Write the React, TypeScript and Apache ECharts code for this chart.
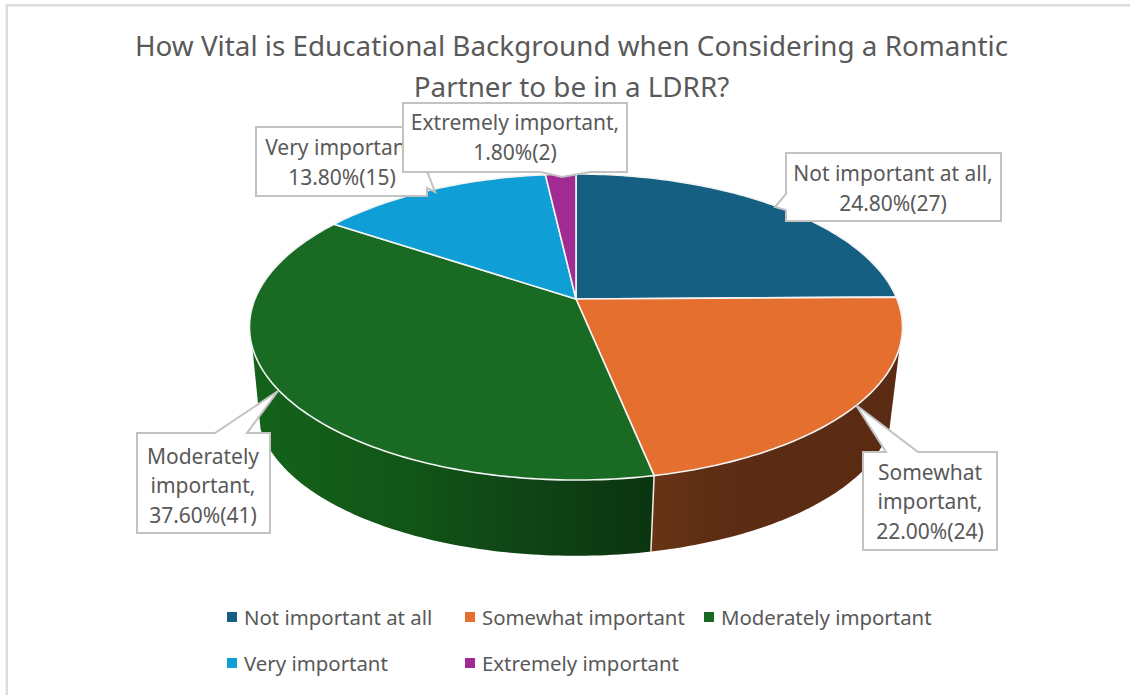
import { useEffect, useRef } from "react";
import * as echarts from "echarts";

const titleLines = [
  "How Vital is Educational Background when Considering a Romantic",
  "Partner to be in a LDRR?",
];
const categories = [
  "Not important at all",
  "Somewhat important",
  "Moderately important",
  "Very important",
  "Extremely important",
];
const shares = [24.8, 22.0, 37.6, 13.8, 1.8];
const counts = [27, 24, 41, 15, 2];
const topColors = ["#156082", "#E46F2E", "#196B24", "#0F9ED5", "#A02B93"];

const FONT = "Noto Sans";
const TEXT = "#595959";

// Perspective disc: rims are projected circles, the far side is foreshortened.
const PERSPECTIVE = 0.183;
const topRim = { cx: 576, cy: 299, rx: 321, ry: 147.9 };
const bottomRim = { cx: 575, cy: 382, rx: 312, ry: 142 };
const SIDE_FROM = 108;
const SIDE_TO = 252;

const rimPoint = (rim: typeof topRim, deg: number) => {
  const t = (deg * Math.PI) / 180;
  const w = 1 + PERSPECTIVE * Math.cos(t);
  return [rim.cx + (rim.rx * Math.sin(t)) / w, rim.cy - (rim.ry * Math.cos(t)) / w];
};

const arcPoints = (rim: typeof topRim, from: number, to: number) => {
  const n = Math.max(2, Math.ceil(Math.abs(to - from)));
  const pts: number[][] = [];
  for (let i = 0; i <= n; i++) pts.push(rimPoint(rim, from + ((to - from) * i) / n));
  return pts;
};

const sideFill = (index: number) => {
  if (index === 1) {
    return new echarts.graphic.LinearGradient(
      653, 0, 900, 0,
      [
        { offset: 0, color: "#693415" },
        { offset: 0.25, color: "#5C2D13" },
        { offset: 1, color: "#5A2B12" },
      ],
      true
    );
  }
  return new echarts.graphic.LinearGradient(
    250, 0, 652, 0,
    [
      { offset: 0, color: "#15631B" },
      { offset: 0.4, color: "#115517" },
      { offset: 0.7, color: "#104316" },
      { offset: 1, color: "#0A3510" },
    ],
    true
  );
};

const sliceRenderer = (index: number) => (_params: unknown, api: any) => {
  const before = shares.slice(0, index).reduce((a, b) => a + b, 0);
  const start = (before / 100) * 360;
  const end = start + (api.value(0) / 100) * 360;
  const children: any[] = [];

  const sideStart = Math.max(start, SIDE_FROM);
  const sideEnd = Math.min(end, SIDE_TO);
  if (sideEnd > sideStart) {
    children.push({
      type: "polygon",
      shape: {
        points: [
          ...arcPoints(topRim, sideStart, sideEnd),
          ...arcPoints(bottomRim, sideEnd, sideStart),
        ],
      },
      style: { fill: sideFill(index) },
    });
    if (start >= SIDE_FROM) {
      children.push({
        type: "line",
        shape: {
          x1: rimPoint(topRim, start)[0],
          y1: rimPoint(topRim, start)[1],
          x2: rimPoint(bottomRim, start)[0],
          y2: rimPoint(bottomRim, start)[1],
        },
        style: { stroke: "#F2EEEA", lineWidth: 1.5 },
      });
    }
  }
  children.push({
    type: "polygon",
    shape: { points: [[topRim.cx, topRim.cy], ...arcPoints(topRim, start, end)] },
    style: { fill: topColors[index], stroke: "#F4F4F4", lineWidth: 1.6, lineJoin: "round" },
  });
  return { type: "group", children };
};

const valueText = (i: number) => `${shares[i].toFixed(2)}%(${counts[i]})`;

const callouts = [
  {
    head: "Not important at all,",
    index: 0,
    outline: [[786, 153], [1001, 153], [1001, 221], [786, 221], [786, 210], [775, 207], [786, 194]],
    cx: 893, cy: 188,
  },
  {
    head: "Somewhat\nimportant,",
    index: 1,
    outline: [[863, 452], [886, 452], [856, 405], [918, 452], [997, 452], [997, 550], [863, 550]],
    cx: 930, cy: 501,
  },
  {
    head: "Moderately\nimportant,",
    index: 2,
    outline: [[137, 433], [215, 433], [278, 391], [247, 433], [270, 433], [270, 533], [137, 533]],
    cx: 203, cy: 485,
  },
  {
    head: "Very important,",
    index: 3,
    outline: [[256, 127], [427, 127], [427, 171], [435, 192], [427, 188], [427, 196], [256, 196]],
    cx: 342, cy: 162,
  },
  {
    head: "Extremely important,",
    index: 4,
    outline: [[403, 103], [627, 103], [627, 172], [590, 172], [562, 177], [541, 172], [403, 172]],
    cx: 515, cy: 137,
  },
];

const legendSlots = [
  { left: 227, top: 607 },
  { left: 465, top: 607 },
  { left: 704, top: 607 },
  { left: 227, top: 653 },
  { left: 465, top: 653 },
];

export default function App() {
  const ref = useRef<HTMLDivElement>(null);

  useEffect(() => {
    document.body.style.margin = "0";
    const chart = echarts.init(ref.current!, undefined, { renderer: "svg" });
    chart.setOption({
      animation: false,
      backgroundColor: "#FFFFFF",
      title: {
        text: titleLines.join("\n"),
        left: 566.5,
        top: 19,
        textAlign: "center",
        textStyle: {
          fontFamily: FONT,
          fontSize: 27.8,
          fontWeight: "normal",
          color: TEXT,
          lineHeight: 41,
        },
      },
      legend: categories.map((name, i) => ({
        show: true,
        data: [name],
        left: legendSlots[i].left,
        top: legendSlots[i].top,
        orient: "horizontal",
        padding: 0,
        icon: "rect",
        itemWidth: 10,
        itemHeight: 10,
        selectedMode: false,
        textStyle: { fontFamily: FONT, fontSize: 20.4, color: TEXT, padding: [0, 0, 0, 2] },
      })),
      series: categories.map((name, i) => ({
        type: "custom",
        name,
        coordinateSystem: "none",
        silent: true,
        itemStyle: { color: topColors[i] },
        data: [[shares[i]]],
        renderItem: sliceRenderer(i),
      })),
      graphic: [
        {
          type: "polyline",
          silent: true,
          z: 1,
          shape: { points: [[6.8, 700], [6.8, 5.2], [1130, 5.2]] },
          style: { stroke: "#DCDCDC", lineWidth: 2.4, fill: "none" },
        },
        ...callouts.flatMap((c, i) => [
          {
            type: "polygon",
            silent: true,
            z: 20 + i * 2,
            shape: { points: c.outline },
            style: { fill: "#FFFFFF", stroke: "#C2C2C2", lineWidth: 2 },
          },
          {
            type: "text",
            silent: true,
            z: 21 + i * 2,
            x: c.cx,
            y: c.cy,
            style: {
              text: `${c.head}\n${valueText(c.index)}`,
              fontFamily: FONT,
              fontSize: 21,
              fill: TEXT,
              lineHeight: 29.5,
              align: "center",
              verticalAlign: "middle",
            },
          },
        ]),
      ],
    });
    return () => chart.dispose();
  }, []);

  return <div ref={ref} style={{ position: "fixed", left: 0, top: 0, width: 1130, height: 695 }} />;
}
